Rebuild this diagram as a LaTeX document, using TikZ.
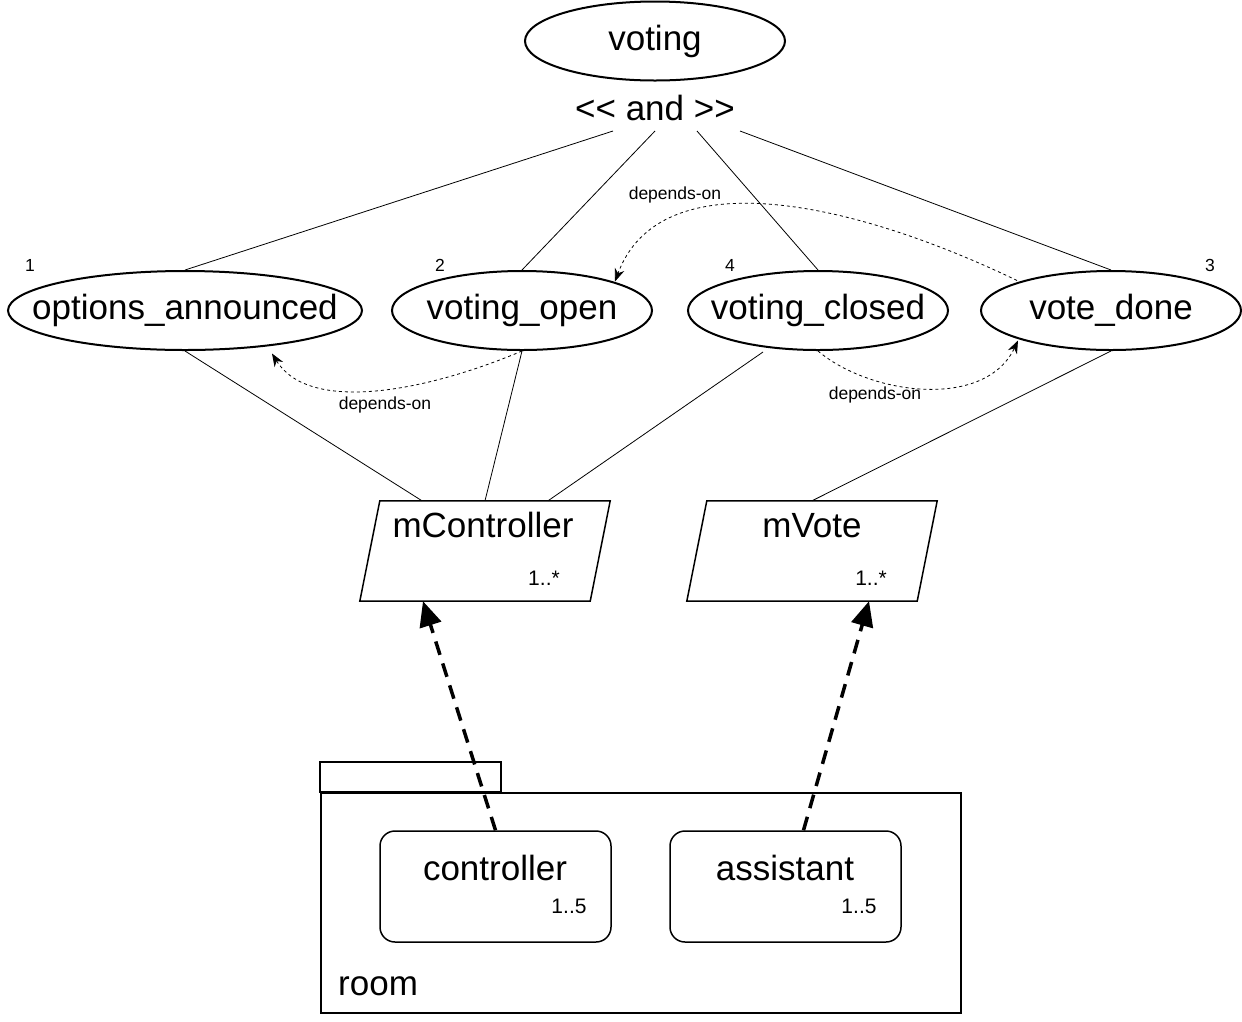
\documentclass[tikz,border=0pt]{standalone}
\usepackage{fontspec}
\setmainfont{Liberation Sans}
\usetikzlibrary{shapes.geometric,arrows.meta,calc}
\begin{document}
\begin{tikzpicture}[x=1pt,y=-1pt,
  big/.style={font=\fontsize{35}{42}\selectfont},
  small/.style={font=\fontsize{17.5}{21}\selectfont},
  mult/.style={font=\fontsize{21}{25}\selectfont},
  ell/.style={ellipse, draw, line width=2pt, inner sep=0pt, minimum height=79pt, big},
  conn/.style={line width=0.8pt},
  dep/.style={dash pattern=on 3pt off 3pt, line width=0.8pt, -{Stealth[length=13pt,width=10pt]}},
  real/.style={line width=3.5pt, dash pattern=on 14pt off 9pt, -{Triangle[length=25pt,width=22pt]}},
  box/.style={draw, line width=1.5pt, inner sep=0pt},
  plain/.style={inner sep=0pt}
]
\fill[white] (0,0) rectangle (1242,1021);
\useasboundingbox (0,0) rectangle (1242,1021);

% top
\node[ell, minimum width=260pt] (voting) at (655,41) {\makebox[0pt]{voting}};
\node[big, plain, anchor=base] (and) at (655,120) {<\kern0pt< and >\kern0pt>};
\coordinate (a1) at (613,131);
\coordinate (a2) at (655,131);
\coordinate (a3) at (697,131);
\coordinate (a4) at (740,131);

% states
\node[ell, minimum width=354pt] (oa) at (185,310.5) {\makebox[0pt]{options\_announced}};
\node[ell, minimum width=260pt] (vo) at (522,310.5) {\makebox[0pt]{voting\_open}};
\node[ell, minimum width=260pt] (vc) at (818,310.5) {\makebox[0pt]{voting\_closed}};
\node[ell, minimum width=260pt] (vd) at (1111,310.5) {\makebox[0pt]{vote\_done}};

\node[small] (n1) at (30,265) {1};
\node[small] (n2) at (440,265) {2};
\node[small] (n4) at (730,265) {4};
\node[small] (n3) at (1210,265) {3};

\draw[conn] (a1) -- (oa.north);
\draw[conn] (a2) -- (vo.north);
\draw[conn] (a3) -- (vc.north);
\draw[conn] (a4) -- (vd.north);

% roles
\node[plain, minimum width=250pt, minimum height=100pt] (mc) at (485,551) {};
\draw[line width=1.5pt] ($(mc.north west)+(20,0)$) -- (mc.north east) -- ($(mc.south east)+(-20,0)$) -- (mc.south west) -- cycle;
\node[big, plain, anchor=base] (mct) at (483,537) {mController};
\node[mult] (mcm) at (544,578) {1..*};

\node[plain, minimum width=250pt, minimum height=100pt] (mv) at (812,551) {};
\draw[line width=1.5pt] ($(mv.north west)+(20,0)$) -- (mv.north east) -- ($(mv.south east)+(-20,0)$) -- (mv.south west) -- cycle;
\node[big, plain, anchor=base] (mvt) at (812,537) {mVote};
\node[mult] (mvm) at (871,578) {1..*};

\draw[conn] (oa.south) -- ($(mc.north)+(-63,0)$);
\draw[conn] (vo.south) -- (mc.north);
\draw[conn] ($(vc.south)+(-55,1)$) -- ($(mc.north)+(63,0)$);
\draw[conn] (vd.south) -- (mv.north);

% dependencies
\draw[dep] (vo.south) .. controls (430,390) and (310,415) .. ($(oa.center)+(87,43)$);
\draw[dep] ($(vd.center)+(-94,-30)$) .. controls (850,200) and (660,160) .. ($(vo.center)+(93,-29)$);
\draw[dep] (vc.south) .. controls (870,395) and (985,410) .. ($(vd.center)+(-93,30)$);
\node[small] (d1) at (385,405) {depends-on};
\node[small] (d2) at (675,195) {depends-on};
\node[small] (d3) at (875,395) {depends-on};

% package
\draw[line width=1.5pt] (320,762) rectangle (501,792);
\node[box, minimum width=640pt, minimum height=220pt, anchor=north west] (room) at (320,792) {};
\node[big, plain, anchor=base west] (roomt) at (338,995) {room};

\node[box, rounded corners=15pt, minimum width=231pt, minimum height=111pt] (ctl) at (495.5,886.5) {};
\node[big, plain, anchor=base] (ctlt) at (495,880) {controller};
\node[mult] (ctlm) at (569,906) {1..5};

\node[box, rounded corners=15pt, minimum width=231pt, minimum height=111pt] (asst) at (785.5,886.5) {};
\node[big, plain, anchor=base] (asstt) at (785,880) {assistant};
\node[mult] (asstm) at (859,906) {1..5};

% realizations
\draw[real] (ctl.north) -- ($(mc.south)+(-62,0)$);
\draw[real] ($(asst.north)+(18,0)$) -- ($(mv.south)+(57,0)$);
\end{tikzpicture}
\end{document}
